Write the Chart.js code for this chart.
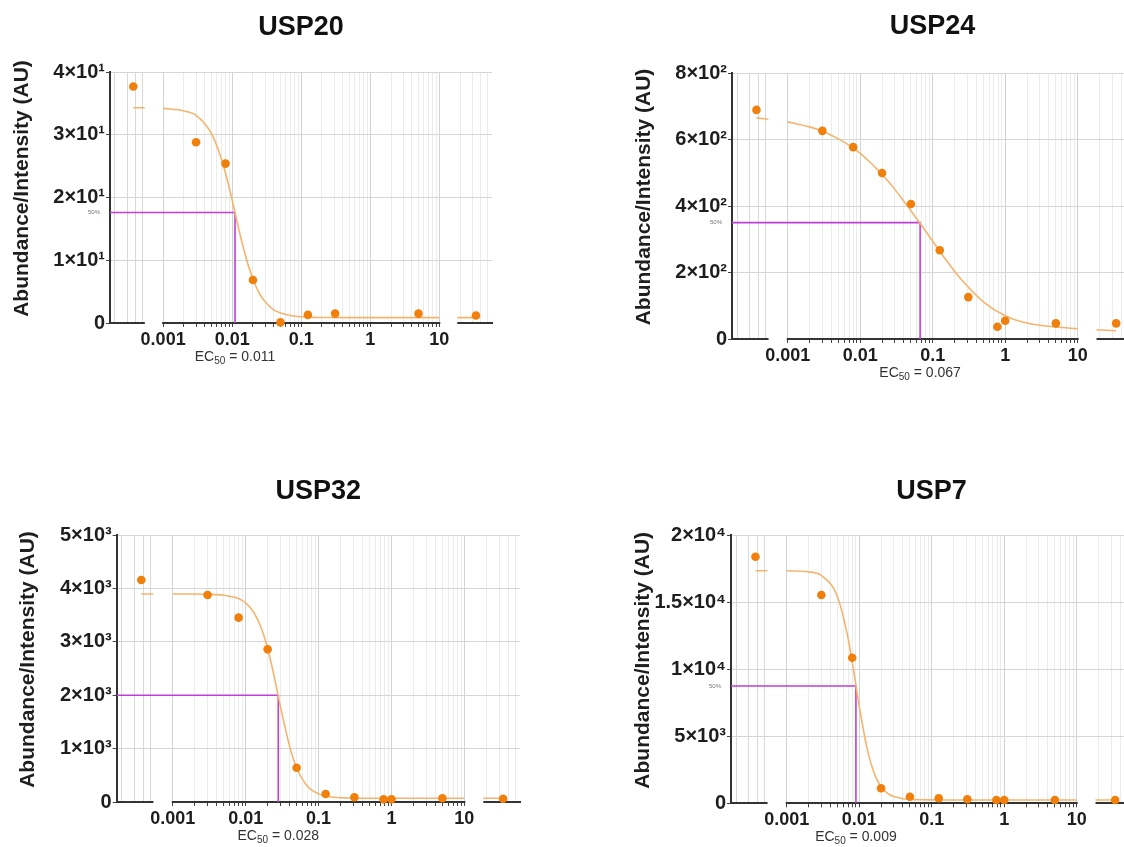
<!DOCTYPE html>
<html>
<head>
<meta charset="utf-8">
<script src="https://cdn.jsdelivr.net/npm/chart.js@4.4.1/dist/chart.umd.min.js"></script>
<style>
  html, body { margin: 0; padding: 0; background: #fff; overflow: hidden; }
  #page { position: relative; width: 1124px; height: 847px; overflow: hidden; background: #fff; }
  #page canvas { position: absolute; }
</style>
</head>
<body>
<div id="page">
  <canvas id="c1" width="500" height="400" style="left:0px;top:0px"></canvas>
  <canvas id="c2" width="520" height="400" style="left:620px;top:0px"></canvas>
  <canvas id="c3" width="530" height="387" style="left:0px;top:460px"></canvas>
  <canvas id="c4" width="520" height="387" style="left:620px;top:460px"></canvas>
</div>
<script>
// --- data ---
const panelNames = ["USP20", "USP24", "USP32", "USP7"];

// concentrations of the measured points (first = control, last = top dose)
const doses = [0.00037, 0.003, 0.008, 0.02, 0.05, 0.125, 0.31, 0.78, 1, 5, 34];
const usp20Values = [37.7, 28.8, 25.4, 6.85, 0.1, 1.3, 1.5, null, null, 1.5, 1.2];
const usp24Values = [689, 626, 577, 499, 406, 267, 126, 37, 55, 47, 47];
const usp32Values = [4157, 3876, 3452, 2859, 642, 150, 88, 50, 50, 69, 60];
const usp7Values = [18400, 15545, 10866, 1119, 493, 373, 298, 246, 246, 246, 246];

// fitted curve, read at these concentrations (null = axis break)
const fitDoses = [0.00037, 0.00054, 0.00075, 0.001, 0.002, 0.003, 0.005, 0.007, 0.0085, 0.01, 0.013, 0.017,
  0.022, 0.026, 0.03, 0.04, 0.05, 0.07, 0.1, 0.15, 0.25, 0.5, 1, 2, 5, 10, 14, 18.2, 34];
const usp20Fit = [34.3, 34.3, null, 34.2, 33.8, 33.1, 30.2, 26.1, 22.8, 19.6, 14.1, 9.3,
  5.9, 4.3, 3.4, 2.1, 1.6, 1.2, 1.0, 0.9, 0.87, 0.85, 0.85, 0.85, 0.85, 0.85, null, 0.85, 0.85];
const usp24Fit = [665, 661, null, 653, 638, 625, 602, 583, 570, 558, 536, 511,
  485, 467, 450, 414, 386, 342, 294, 240, 178, 112, 70, 48, 36, 31, null, 28, 25];
const usp32Fit = [3895, 3895, null, 3895, 3894, 3890, 3873, 3836, 3791, 3729, 3547, 3196,
  2646, 2194, 1785, 1047, 642, 300, 152, 95, 75, 70, 70, 70, 70, 70, null, 70, 70];
const usp7Fit = [17358, 17358, null, 17350, 17270, 17000, 15419, 12340, 9657, 7244, 3951, 1917,
  969, 658, 499, 342, 292, 265, 255, 251, 250, 250, 250, 250, 250, 250, null, 250, 250];

const ec50Values = [0.011, 0.067, 0.028, 0.009];
const halfLevels = [17.6, 350, 2000, 8750];

const yTicks20 = [0, 10, 20, 30, 40];
const yLabels20 = ["0", "1×10¹", "2×10¹", "3×10¹", "4×10¹"];
const yTicks24 = [0, 200, 400, 600, 800];
const yLabels24 = ["0", "2×10²", "4×10²", "6×10²", "8×10²"];
const yTicks32 = [0, 1000, 2000, 3000, 4000, 5000];
const yLabels32 = ["0", "1×10³", "2×10³", "3×10³", "4×10³", "5×10³"];
const yTicks7 = [0, 5000, 10000, 15000, 20000];
const yLabels7 = ["0", "5×10³", "1×10⁴", "1.5×10⁴", "2×10⁴"];

const xMajorTicks = [0.001, 0.01, 0.1, 1, 10];
const xMajorLabels = ["0.001", "0.01", "0.1", "1", "10"];
const yAxisTitle = "Abundance/Intensity (AU)";

// segmented log axis: [axisMin..leftSegEnd] control, [0.001..10] doses, [rightSegStart..axisMax] top dose
const axisMin = 0.00017, axisMax = 58;
const leftSegEnd = 0.000543, rightSegStart = 18.2;

const allValues = [usp20Values, usp24Values, usp32Values, usp7Values];
const allFits = [usp20Fit, usp24Fit, usp32Fit, usp7Fit];
const allYTicks = [yTicks20, yTicks24, yTicks32, yTicks7];
const allYLabels = [yLabels20, yLabels24, yLabels32, yLabels7];

// --- layout / style ---
const layouts = [
  { id: "c1", yAxisW: 110,   xAxisH: 77,   padR: 8,  titleTop: 11.8, titleBottom: 27.8, showHalf: true },
  { id: "c2", yAxisW: 112,   xAxisH: 61,   padR: 7,  titleTop: 10.8, titleBottom: 29.8, showHalf: true },
  { id: "c3", yAxisW: 116.7, xAxisH: 45,   padR: 10, titleTop: 15.8, titleBottom: 26.8, showHalf: false },
  { id: "c4", yAxisW: 111,   xAxisH: 43.7, padR: 8,  titleTop: 15.8, titleBottom: 27.1, showHalf: true }
];
const FONT = "'Liberation Sans', Arial, Helvetica, sans-serif";
const pointColor = "#f07f0c";
const curveColor = "#f5b46e";
const markColor = "#c03fd8";
const axisColor = "#333";
const textColor = "#1e1e1e";

// gridline positions for the log axis (1..9 per decade)
const xGridValues = [];
for (let e = -4; e <= 1; e++) {
  for (let k = 1; k <= 9; k++) {
    const v = +(k * Math.pow(10, e)).toPrecision(6);
    if (v >= axisMin && v <= axisMax) xGridValues.push(v);
  }
}
const isDecade = v => Math.abs(Math.log10(v) - Math.round(Math.log10(v))) < 1e-9;
const inGap = v => (v > leftSegEnd && v < 0.001) || (v > 10 && v < rightSegStart);

// breaks in the x axis line + text extras (EC50, 50%, y title)
const panelExtras = {
  id: "panelExtras",
  beforeDatasetsDraw(chart) {
    const { ctx, chartArea } = chart;
    const xs = chart.scales.x;
    ctx.save();
    ctx.fillStyle = "#fff";
    const b = chartArea.bottom;
    const l0 = xs.getPixelForValue(leftSegEnd), l1 = xs.getPixelForValue(0.001);
    ctx.fillRect(l0, b - 2, l1 - l0 - 1, 9);
    const r0 = xs.getPixelForValue(10), r1 = xs.getPixelForValue(rightSegStart);
    ctx.fillRect(r0 + 1, b - 2, r1 - r0 - 1, 9);
    ctx.restore();
  },
  afterDraw(chart, args, opts) {
    const { ctx, chartArea } = chart;
    const xs = chart.scales.x, ys = chart.scales.y;
    ctx.save();

    // y axis title
    ctx.translate(chartArea.left - 88, (chartArea.top + chartArea.bottom) / 2 - 9);
    ctx.rotate(-Math.PI / 2);
    ctx.font = "bold 21px " + FONT;
    ctx.fillStyle = textColor;
    ctx.textAlign = "center";
    ctx.textBaseline = "middle";
    ctx.fillText(yAxisTitle, 0, 0);
    ctx.setTransform(1, 0, 0, 1, 0, 0);

    // EC50 = value, with subscript
    const cx = xs.getPixelForValue(opts.ec50);
    const cy = chartArea.bottom + 34;
    const big = "14px " + FONT, small = "10px " + FONT;
    const t1 = "EC", t2 = "50", t3 = " = " + String(opts.ec50);
    ctx.font = big; const w1 = ctx.measureText(t1).width, w3 = ctx.measureText(t3).width;
    ctx.font = small; const w2 = ctx.measureText(t2).width;
    let x = cx - (w1 + w2 + w3) / 2;
    ctx.fillStyle = "#333";
    ctx.textAlign = "left";
    ctx.textBaseline = "middle";
    ctx.font = big; ctx.fillText(t1, x, cy); x += w1;
    ctx.font = small; ctx.fillText(t2, x, cy + 4); x += w2;
    ctx.font = big; ctx.fillText(t3, x, cy);

    // tiny 50% mark
    if (opts.showHalf) {
      ctx.font = "6px " + FONT;
      ctx.fillStyle = "#777";
      ctx.textAlign = "right";
      ctx.fillText("50%", chartArea.left - 10, ys.getPixelForValue(opts.half));
    }
    ctx.restore();
  }
};

function makePanel(i) {
  const lay = layouts[i];
  const yTicks = allYTicks[i], yLabels = allYLabels[i];
  const points = doses.map((d, k) => ({ x: d, y: allValues[i][k] })).filter(p => p.y !== null);
  const fit = fitDoses.map((d, k) => ({ x: d, y: allFits[i][k] }));
  const marker = [
    { x: axisMin, y: halfLevels[i] },
    { x: ec50Values[i], y: halfLevels[i] },
    { x: ec50Values[i], y: 0 }
  ];

  new Chart(document.getElementById(lay.id), {
    type: "scatter",
    data: {
      datasets: [
        { data: points, backgroundColor: pointColor, borderWidth: 0, pointRadius: 4.3, clip: false },
        { type: "line", data: fit, borderColor: curveColor, borderWidth: 1.6, pointRadius: 0,
          spanGaps: false, cubicInterpolationMode: "monotone", fill: false },
        { type: "line", data: marker, borderColor: markColor, borderWidth: 1.6, pointRadius: 0, tension: 0, fill: false }
      ]
    },
    options: {
      responsive: false,
      animation: false,
      events: [],
      devicePixelRatio: 1,
      layout: { padding: { left: 0, right: lay.padR, top: 0, bottom: 0 } },
      plugins: {
        legend: { display: false },
        tooltip: { enabled: false },
        title: {
          display: true,
          text: panelNames[i],
          fullSize: false,
          color: "#111",
          font: { family: FONT, size: 27, weight: "bold" },
          padding: { top: lay.titleTop, bottom: lay.titleBottom }
        },
        panelExtras: { ec50: ec50Values[i], half: halfLevels[i], showHalf: lay.showHalf }
      },
      scales: {
        x: {
          type: "logarithmic",
          min: axisMin,
          max: axisMax,
          afterBuildTicks: axis => { axis.ticks = xGridValues.map(v => ({ value: v })); },
          afterFit: axis => { axis.height = lay.xAxisH; },
          border: { color: axisColor, width: 2 },
          grid: {
            lineWidth: 1,
            tickLength: 4,
            color: c => {
              const v = c.tick ? c.tick.value : 0;
              if (inGap(v)) return "rgba(0,0,0,0)";
              if (isDecade(v)) return "#d2d2d2";
              if (v < leftSegEnd) return "#d9d9d9";
              return "#ececec";
            },
            tickColor: c => {
              const v = c.tick ? c.tick.value : 0;
              return (v >= 0.001 && v <= 10) ? "#444" : "rgba(0,0,0,0)";
            }
          },
          ticks: {
            autoSkip: false,
            maxRotation: 0,
            padding: 2,
            color: textColor,
            font: { family: FONT, size: 18, weight: "bold" },
            callback: v => {
              const k = xMajorTicks.findIndex(t => Math.abs(t - v) / t < 1e-6);
              return k >= 0 ? xMajorLabels[k] : "";
            }
          }
        },
        y: {
          min: yTicks[0],
          max: yTicks[yTicks.length - 1],
          afterBuildTicks: axis => { axis.ticks = yTicks.map(v => ({ value: v })); },
          afterFit: axis => { axis.width = lay.yAxisW; },
          border: { color: axisColor, width: 2 },
          grid: { color: "#d6d6d6", lineWidth: 1, tickLength: 4, tickColor: "#444" },
          ticks: {
            padding: 1,
            color: textColor,
            font: { family: FONT, size: 20, weight: "bold" },
            callback: (v, idx) => yLabels[idx]
          }
        }
      }
    },
    plugins: [panelExtras]
  });
}

for (let i = 0; i < panelNames.length; i++) makePanel(i);
</script>
</body>
</html>
